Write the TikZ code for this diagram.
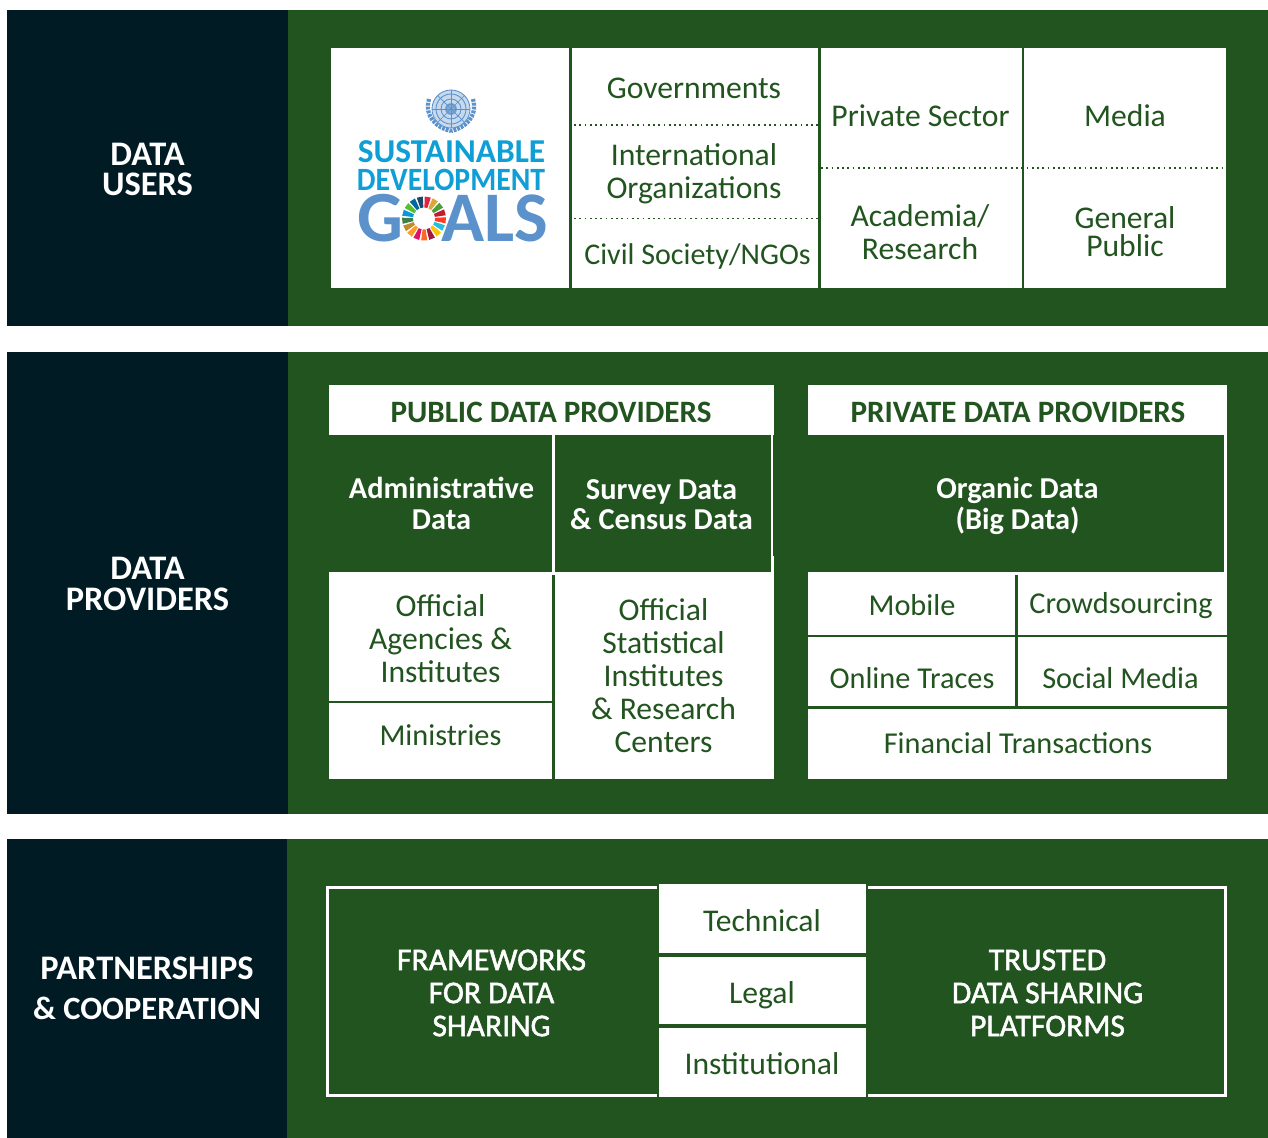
\documentclass[tikz,border=0pt]{standalone}
\usepackage{fontspec}
\setmainfont{Carlito}
\newfontfamily\mediumfont[FakeBold=1.6]{Carlito}
\usetikzlibrary{positioning}
\definecolor{panelgreen}{HTML}{22541F}
\definecolor{paneldark}{HTML}{011B24}
\definecolor{sdgcyan}{HTML}{0F9ED5}
\definecolor{sdgblue}{HTML}{5B92CB}
\tikzset{
  sidelabel/.style={text=white, align=center, inner sep=0pt, font=\fontsize{19.6}{17.3}\selectfont\bfseries},
  headlabel/.style={text=panelgreen, align=center, inner sep=0pt, font=\fontsize{17.7}{19}\selectfont\bfseries},
  darklabel/.style={text=white, align=center, inner sep=0pt, font=\fontsize{17.3}{17.3}\selectfont\bfseries},
  celllabel/.style={text=panelgreen, align=center, inner sep=0pt, font=\fontsize{18}{18.8}\selectfont},
  shortlabel/.style={text=panelgreen, align=center, inner sep=0pt, font=\fontsize{17.25}{18.8}\selectfont},
  framelabel/.style={text=white, align=center, inner sep=0pt, font=\mediumfont\fontsize{18}{18.8}\selectfont},
  rule/.style={panelgreen, line width=1.5pt},
  dotrule/.style={panelgreen, line width=1pt, dash pattern=on 1pt off 2pt},
  whiterule/.style={white, line width=1.5pt}
}
\begin{document}
\begin{tikzpicture}[x=0.02cm, y=-0.02cm]
\useasboundingbox (0,0) rectangle (1268,1138);
\fill[white] (0,0) rectangle (1268,1138);

% panels
\fill[panelgreen] (288,10) rectangle (1268,326);
\fill[paneldark] (7,10) rectangle (288,326);
\fill[panelgreen] (288,352) rectangle (1268,814);
\fill[paneldark] (7,352) rectangle (288,814);
\fill[panelgreen] (287,839) rectangle (1268,1138);
\fill[paneldark] (7,839) rectangle (287,1138);
\node[sidelabel] (users) at (147.5,169.5) {DATA\\USERS};
\node[sidelabel] (providers) at (147.5,584) {DATA\\PROVIDERS};
\node[sidelabel, font=\fontsize{18.5}{22.6}\selectfont\bfseries] (partners) at (147,988.5) {{\fontsize{19.6}{22.6}\selectfont PARTNERSHIPS}\\\& COOPERATION};

% data users
\fill[white] (331,48) rectangle (1226,288);
\draw[rule] (570.5,48) -- (570.5,288);
\draw[rule] (819.5,48) -- (819.5,288);
\draw[rule] (1023,48) -- (1023,288);
\draw[dotrule] (574,125) -- (819,125);
\draw[dotrule] (574,218.5) -- (819,218.5);
\draw[dotrule] (821,168) -- (1226,168);
\node[celllabel] (gov) at (694,88) {Governments};
\node[celllabel] (intl) at (694,173.5) {International\\Organizations};
\node[celllabel, font=\fontsize{17.1}{18.8}\selectfont] (civil) at (697.5,256.5) {Civil Society/NGOs};
\node[celllabel] (private) at (920.5,116) {Private Sector};
\node[celllabel] (media) at (1125,116) {Media};
\node[celllabel] (academia) at (920,232) {Academia/\\Research};
\node[celllabel, font=\fontsize{18}{16}\selectfont] (public) at (1125,232) {General\\Public};

% logo
\begin{scope}[shift={(451,109)}, sdgblue]
  \fill[sdgblue!35] (0,0) circle (19);
  \foreach \r in {5,10,15,19} \draw[line width=0.5pt] (0,0) circle (\r);
  \foreach \a in {0,45,...,315} \draw[line width=0.4pt] (0,0) -- (\a:19);
  \fill[opacity=0.6] (0,0) circle (6);
  \draw[line width=2.4pt, dash pattern=on 1.6pt off 0.6pt] (-22,-10) .. controls (-27,8) and (-14,19) .. (0,22);
  \draw[line width=2.4pt, dash pattern=on 1.6pt off 0.6pt] (22,-10) .. controls (27,8) and (14,19) .. (0,22);
\end{scope}
\node[text=sdgcyan, inner sep=0pt, font=\fontsize{19}{20}\selectfont\bfseries] (sustain) at (451.5,152) {SUSTAINABLE};
\node[text=sdgcyan, inner sep=0pt, font=\fontsize{18.5}{20}\selectfont\bfseries] (develop) at (451,180) {\scalebox{0.915}[1]{DEVELOPMENT}};
\node[text=sdgblue, inner sep=0pt, font=\fontsize{41}{41}\selectfont\bfseries] (goalg) at (380,218) {G};
\node[text=sdgblue, inner sep=0pt, font=\fontsize{40.5}{41}\selectfont\bfseries] (goals) at (494.5,218) {ALS};
\begin{scope}[shift={(424,218.5)}]
  \foreach \i/\c in {0/E5243B,1/DDA63A,2/4C9F38,3/C5192D,4/FF3A21,5/26BDE2,6/FCC30B,7/A21942,8/FD6925,9/DD1367,10/FD9D24,11/BF8B2E,12/3F7E44,13/0A97D9,14/56C02B,15/00689D,16/19486A} {
    \definecolor{wedge}{HTML}{\c}
    \pgfmathsetmacro{\sa}{\i*360/17-90+2}
    \pgfmathsetmacro{\ea}{\i*360/17-90+18}
    \fill[wedge] (\sa:11) -- (\sa:22) -- (\ea:22) -- (\ea:11) -- cycle;
  }
\end{scope}

% public data providers
\fill[white] (329,385) rectangle (774,779);
\fill[panelgreen] (329,435) rectangle (552,572);
\fill[panelgreen] (555,435) rectangle (771,572);
\fill[panelgreen] (772.5,435) rectangle (774,556);
\draw[rule] (553.3,575) -- (553.3,779);
\draw[rule] (329,702) -- (553,702);
\node[headlabel] (pubhead) at (551,412) {PUBLIC DATA PROVIDERS};
\node[darklabel] (admin) at (441.5,503.5) {Administrative\\Data};
\node[darklabel] (survey) at (661.5,504.5) {Survey Data\\\& Census Data};
\node[celllabel] (agencies) at (440.5,638.5) {Official\\Agencies \&\\Institutes};
\node[shortlabel] (ministries) at (440.5,735) {Ministries};
\node[celllabel] (stats) at (663.5,676) {Official\\Statistical\\Institutes\\\& Research\\Centers};

% private data providers
\fill[white] (808.3,385) rectangle (1226.7,779);
\fill[panelgreen] (808.3,435) rectangle (1224,572);
\draw[rule] (1016.3,575) -- (1016.3,707);
\draw[rule] (808.3,636) -- (1226.7,636);
\draw[rule] (808.3,707.7) -- (1226.7,707.7);
\node[headlabel] (privhead) at (1018,412) {PRIVATE DATA PROVIDERS};
\node[darklabel, font=\fontsize{17.3}{17.6}\selectfont\bfseries] (organic) at (1017.5,506) {Organic Data\\(Big Data)};
\node[shortlabel] (mobile) at (912,605) {Mobile};
\node[shortlabel] (crowd) at (1121,606) {Crowdsourcing};
\node[shortlabel] (traces) at (912,678) {Online Traces};
\node[shortlabel] (social) at (1120.5,678) {Social Media};
\node[shortlabel] (finance) at (1018,743) {Financial Transactions};

% partnerships
\draw[whiterule] (657,887.5) -- (327.5,887.5) -- (327.5,1095.5) -- (657,1095.5);
\draw[whiterule] (868,887.5) -- (1225.8,887.5) -- (1225.8,1095.5) -- (868,1095.5);
\fill[white] (659,884.3) rectangle (865.5,953);
\fill[white] (659,956.7) rectangle (865.5,1024.3);
\fill[white] (659,1027.7) rectangle (865.5,1096.7);
\node[framelabel] (frameworks) at (491.5,993) {FRAMEWORKS\\FOR DATA\\SHARING};
\node[framelabel] (platforms) at (1047.5,993) {TRUSTED\\DATA SHARING\\PLATFORMS};
\node[celllabel] (technical) at (762,921) {Technical};
\node[celllabel] (legal) at (762,995) {Legal};
\node[celllabel] (institutional) at (762,1064) {Institutional};
\end{tikzpicture}
\end{document}
